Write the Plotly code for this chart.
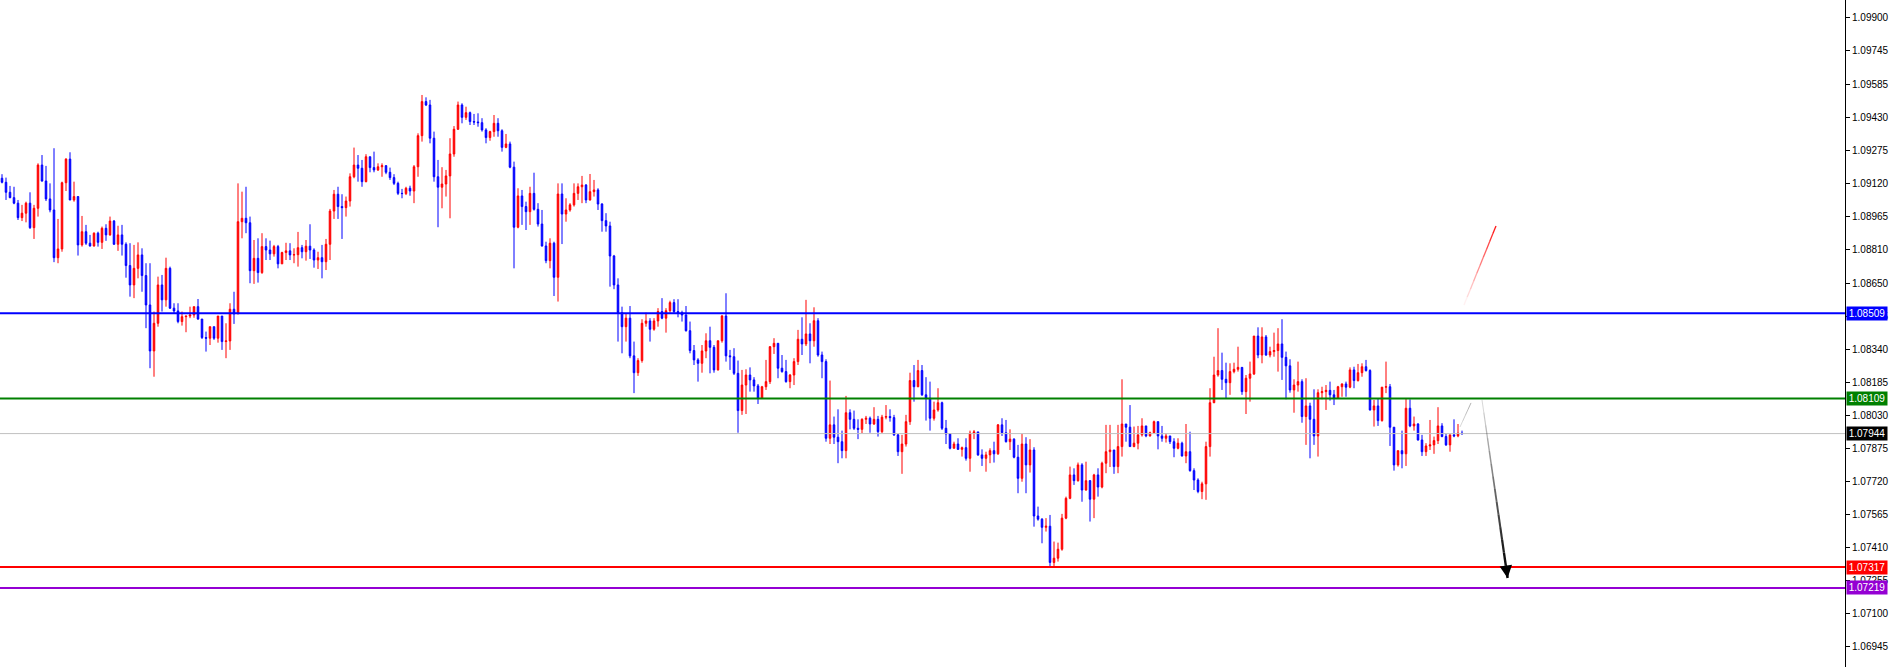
import numpy as np
import plotly.graph_objects as go

# ---------------- data (EURUSD-like candles) ----------------
first_open = 1.09143

close = [
    1.09124, 1.09077, 1.09052, 1.09026, 1.08958, 1.08979, 1.09026, 1.08911, 1.09002, 1.09205,
    1.09130, 1.09046, 1.08994, 1.08770, 1.08811, 1.09122, 1.09233, 1.09041, 1.09057, 1.08830,
    1.08892, 1.08838, 1.08825, 1.08885, 1.08842, 1.08908, 1.08877, 1.08942, 1.08833, 1.08877,
    1.08833, 1.08733, 1.08642, 1.08720, 1.08783, 1.08686, 1.08548, 1.08332, 1.08462, 1.08642,
    1.08572, 1.08720, 1.08533, 1.08520, 1.08470, 1.08493, 1.08496, 1.08501, 1.08540, 1.08482,
    1.08395, 1.08392, 1.08446, 1.08392, 1.08496, 1.08376, 1.08379, 1.08528, 1.08506, 1.08939,
    1.08955, 1.08934, 1.08709, 1.08767, 1.08700, 1.08822, 1.08806, 1.08788, 1.08822, 1.08741,
    1.08794, 1.08802, 1.08783, 1.08784, 1.08817, 1.08798, 1.08824, 1.08806, 1.08759, 1.08770,
    1.08751, 1.08833, 1.08989, 1.09068, 1.09010, 1.09005, 1.09036, 1.09150, 1.09205, 1.09190,
    1.09127, 1.09244, 1.09193, 1.09182, 1.09197, 1.09202, 1.09171, 1.09146, 1.09119, 1.09072,
    1.09071, 1.09096, 1.09083, 1.09197, 1.09343, 1.09503, 1.09487, 1.09331, 1.09150, 1.09101,
    1.09116, 1.09154, 1.09257, 1.09373, 1.09487, 1.09429, 1.09451, 1.09409, 1.09407, 1.09404,
    1.09370, 1.09334, 1.09362, 1.09401, 1.09366, 1.09288, 1.09304, 1.09195, 1.08913, 1.09060,
    1.09010, 1.08986, 1.09072, 1.08997, 1.08928, 1.08825, 1.08756, 1.08838, 1.08678, 1.09069,
    1.08975, 1.08994, 1.09018, 1.09072, 1.09103, 1.09111, 1.09041, 1.09080, 1.09088, 1.09022,
    1.08944, 1.08919, 1.08778, 1.08642, 1.08512, 1.08446, 1.08486, 1.08309, 1.08230, 1.08287,
    1.08462, 1.08473, 1.08434, 1.08473, 1.08517, 1.08486, 1.08521, 1.08559, 1.08517, 1.08512,
    1.08501, 1.08427, 1.08334, 1.08290, 1.08274, 1.08332, 1.08380, 1.08349, 1.08243, 1.08380,
    1.08496, 1.08309, 1.08305, 1.08227, 1.08052, 1.08172, 1.08219, 1.08196, 1.08168, 1.08110,
    1.08164, 1.08188, 1.08352, 1.08368, 1.08251, 1.08235, 1.08188, 1.08219, 1.08282, 1.08387,
    1.08365, 1.08412, 1.08380, 1.08474, 1.08313, 1.08282, 1.07922, 1.07985, 1.07927, 1.07906,
    1.07864, 1.08042, 1.08011, 1.07969, 1.07964, 1.08011, 1.08016, 1.07989, 1.08011, 1.07953,
    1.08021, 1.08024, 1.08019, 1.07938, 1.07859, 1.07895, 1.08000, 1.08193, 1.08164, 1.08240,
    1.08126, 1.08110, 1.08016, 1.08055, 1.08089, 1.07969, 1.07942, 1.07875, 1.07895, 1.07870,
    1.07878, 1.07828, 1.07946, 1.07952, 1.07844, 1.07828, 1.07844, 1.07864, 1.07849, 1.07985,
    1.07948, 1.07906, 1.07918, 1.07833, 1.07734, 1.07895, 1.07797, 1.07867, 1.07557, 1.07542,
    1.07504, 1.07509, 1.07339, 1.07359, 1.07401, 1.07547, 1.07640, 1.07750, 1.07723, 1.07797,
    1.07679, 1.07723, 1.07636, 1.07750, 1.07693, 1.07805, 1.07859, 1.07867, 1.07789, 1.07883,
    1.07989, 1.07974, 1.07883, 1.07899, 1.07938, 1.07980, 1.07933, 1.07948, 1.08000, 1.07933,
    1.07922, 1.07933, 1.07906, 1.07875, 1.07899, 1.07839, 1.07859, 1.07770, 1.07726, 1.07672,
    1.07708, 1.07883, 1.08089, 1.08219, 1.08240, 1.08199, 1.08183, 1.08235, 1.08246, 1.08255,
    1.08141, 1.08204, 1.08224, 1.08402, 1.08313, 1.08398, 1.08313, 1.08329, 1.08334, 1.08365,
    1.08302, 1.08262, 1.08149, 1.08172, 1.08188, 1.08024, 1.08074, 1.08011, 1.07933, 1.08136,
    1.08141, 1.08147, 1.08126, 1.08110, 1.08164, 1.08177, 1.08162, 1.08243, 1.08193, 1.08230,
    1.08258, 1.08240, 1.08055, 1.08074, 1.08005, 1.08162, 1.08164, 1.07974, 1.07797, 1.07864,
    1.07849, 1.08063, 1.07980, 1.07989, 1.07914, 1.07859, 1.07886, 1.07891, 1.07911, 1.07980,
    1.07930, 1.07891, 1.07938, 1.07933, 1.07946, 1.07944,
]

high = [
    1.09162, 1.09146, 1.09107, 1.09103, 1.09041, 1.09018, 1.09033, 1.09077, 1.09018, 1.09213,
    1.09252, 1.09201, 1.09119, 1.09284, 1.08952, 1.09127, 1.09237, 1.09265, 1.09127, 1.09057,
    1.08966, 1.08924, 1.08877, 1.08889, 1.08892, 1.08916, 1.08927, 1.08963, 1.08947, 1.08920,
    1.08924, 1.08842, 1.08838, 1.08830, 1.08842, 1.08814, 1.08744, 1.08744, 1.08517, 1.08681,
    1.08689, 1.08770, 1.08728, 1.08556, 1.08556, 1.08517, 1.08496, 1.08540, 1.08540, 1.08576,
    1.08482, 1.08423, 1.08446, 1.08446, 1.08496, 1.08496, 1.08462, 1.08556, 1.08610, 1.09119,
    1.09080, 1.09103, 1.08963, 1.08853, 1.08861, 1.08885, 1.08861, 1.08850, 1.08830, 1.08830,
    1.08798, 1.08840, 1.08838, 1.08814, 1.08891, 1.08830, 1.08853, 1.08927, 1.08814, 1.08798,
    1.08830, 1.08858, 1.08999, 1.09088, 1.09103, 1.09068, 1.09057, 1.09166, 1.09287, 1.09252,
    1.09229, 1.09256, 1.09244, 1.09268, 1.09213, 1.09213, 1.09205, 1.09193, 1.09162, 1.09127,
    1.09093, 1.09103, 1.09108, 1.09205, 1.09354, 1.09534, 1.09523, 1.09511, 1.09362, 1.09229,
    1.09195, 1.09182, 1.09331, 1.09388, 1.09503, 1.09495, 1.09479, 1.09456, 1.09445, 1.09448,
    1.09425, 1.09378, 1.09366, 1.09440, 1.09425, 1.09373, 1.09351, 1.09315, 1.09221, 1.09096,
    1.09088, 1.09033, 1.09103, 1.09169, 1.09026, 1.08994, 1.08845, 1.08861, 1.08845, 1.09119,
    1.09119, 1.09049, 1.09026, 1.09119, 1.09119, 1.09154, 1.09116, 1.09163, 1.09135, 1.09096,
    1.09026, 1.08979, 1.08939, 1.08783, 1.08673, 1.08540, 1.08506, 1.08543, 1.08376, 1.08298,
    1.08481, 1.08512, 1.08486, 1.08486, 1.08533, 1.08580, 1.08533, 1.08568, 1.08575, 1.08575,
    1.08521, 1.08543, 1.08470, 1.08360, 1.08298, 1.08360, 1.08415, 1.08446, 1.08360, 1.08380,
    1.08501, 1.08603, 1.08337, 1.08345, 1.08287, 1.08243, 1.08246, 1.08255, 1.08209, 1.08177,
    1.08168, 1.08290, 1.08355, 1.08392, 1.08368, 1.08313, 1.08290, 1.08224, 1.08298, 1.08431,
    1.08490, 1.08572, 1.08462, 1.08537, 1.08486, 1.08329, 1.08293, 1.08193, 1.08024, 1.08058,
    1.07958, 1.08121, 1.08058, 1.08052, 1.08011, 1.08016, 1.08027, 1.08024, 1.08068, 1.08027,
    1.08032, 1.08078, 1.08058, 1.08032, 1.07942, 1.07938, 1.08032, 1.08230, 1.08266, 1.08290,
    1.08266, 1.08209, 1.08188, 1.08094, 1.08157, 1.08094, 1.08008, 1.07946, 1.07906, 1.07922,
    1.07883, 1.07922, 1.07958, 1.07961, 1.07948, 1.07870, 1.07859, 1.07875, 1.07906, 1.07989,
    1.08016, 1.08008, 1.07964, 1.07922, 1.07891, 1.07942, 1.07927, 1.07918, 1.07880, 1.07601,
    1.07547, 1.07547, 1.07562, 1.07437, 1.07432, 1.07567, 1.07648, 1.07789, 1.07781, 1.07808,
    1.07805, 1.07812, 1.07726, 1.07755, 1.07781, 1.07812, 1.07985, 1.07985, 1.07864, 1.07985,
    1.08199, 1.07989, 1.08078, 1.07977, 1.07980, 1.08016, 1.07980, 1.07953, 1.08005, 1.08000,
    1.07980, 1.07946, 1.07930, 1.07922, 1.07922, 1.07906, 1.07989, 1.07953, 1.07781, 1.07734,
    1.07718, 1.07906, 1.08157, 1.08305, 1.08439, 1.08324, 1.08277, 1.08274, 1.08277, 1.08352,
    1.08235, 1.08219, 1.08282, 1.08402, 1.08443, 1.08443, 1.08407, 1.08352, 1.08418, 1.08439,
    1.08481, 1.08329, 1.08293, 1.08199, 1.08282, 1.08199, 1.08204, 1.08089, 1.08152, 1.08152,
    1.08164, 1.08172, 1.08188, 1.08149, 1.08168, 1.08180, 1.08188, 1.08255, 1.08258, 1.08271,
    1.08274, 1.08290, 1.08246, 1.08102, 1.08110, 1.08162, 1.08282, 1.08177, 1.07974, 1.07864,
    1.07958, 1.08110, 1.08105, 1.08024, 1.07993, 1.07938, 1.07899, 1.08008, 1.07930, 1.08068,
    1.07993, 1.07942, 1.07938, 1.08011, 1.07989, 1.07958,
]

low = [
    1.09119, 1.09041, 1.09049, 1.09021, 1.08947, 1.08942, 1.08936, 1.08905, 1.08858, 1.08963,
    1.09127, 1.09036, 1.08983, 1.08749, 1.08744, 1.08798, 1.09083, 1.09040, 1.09033, 1.08780,
    1.08822, 1.08830, 1.08822, 1.08822, 1.08822, 1.08811, 1.08849, 1.08873, 1.08830, 1.08802,
    1.08780, 1.08676, 1.08587, 1.08580, 1.08673, 1.08610, 1.08439, 1.08251, 1.08211, 1.08446,
    1.08517, 1.08540, 1.08529, 1.08509, 1.08462, 1.08451, 1.08420, 1.08486, 1.08488, 1.08478,
    1.08388, 1.08329, 1.08360, 1.08384, 1.08371, 1.08337, 1.08298, 1.08337, 1.08459, 1.08506,
    1.08861, 1.08885, 1.08650, 1.08647, 1.08653, 1.08694, 1.08759, 1.08759, 1.08775, 1.08720,
    1.08744, 1.08759, 1.08759, 1.08744, 1.08728, 1.08767, 1.08756, 1.08764, 1.08723, 1.08717,
    1.08673, 1.08712, 1.08759, 1.08952, 1.08952, 1.08858, 1.08963, 1.09010, 1.09143, 1.09127,
    1.09103, 1.09124, 1.09171, 1.09171, 1.09177, 1.09150, 1.09162, 1.09135, 1.09111, 1.09064,
    1.09049, 1.09064, 1.09061, 1.09026, 1.09150, 1.09315, 1.09482, 1.09307, 1.09127, 1.08913,
    1.09002, 1.09057, 1.08955, 1.09244, 1.09370, 1.09401, 1.09417, 1.09393, 1.09393, 1.09385,
    1.09362, 1.09307, 1.09319, 1.09338, 1.09338, 1.09268, 1.09284, 1.09190, 1.08720, 1.08908,
    1.08924, 1.08900, 1.08924, 1.08991, 1.08916, 1.08822, 1.08744, 1.08720, 1.08590, 1.08564,
    1.08834, 1.08939, 1.08986, 1.09010, 1.09041, 1.09026, 1.09026, 1.09038, 1.09057, 1.08994,
    1.08892, 1.08892, 1.08634, 1.08622, 1.08376, 1.08321, 1.08376, 1.08298, 1.08134, 1.08215,
    1.08277, 1.08446, 1.08376, 1.08427, 1.08446, 1.08481, 1.08418, 1.08512, 1.08509, 1.08490,
    1.08470, 1.08423, 1.08321, 1.08266, 1.08188, 1.08230, 1.08298, 1.08227, 1.08230, 1.08240,
    1.08371, 1.08282, 1.08243, 1.08219, 1.07948, 1.08032, 1.08036, 1.08141, 1.08141, 1.08083,
    1.08110, 1.08149, 1.08177, 1.08318, 1.08204, 1.08230, 1.08183, 1.08157, 1.08172, 1.08266,
    1.08313, 1.08355, 1.08274, 1.08352, 1.08305, 1.08204, 1.07906, 1.07895, 1.07895, 1.07805,
    1.07828, 1.07828, 1.07964, 1.07961, 1.07918, 1.07946, 1.07989, 1.07948, 1.07985, 1.07930,
    1.07946, 1.08011, 1.08000, 1.07933, 1.07839, 1.07755, 1.07883, 1.07985, 1.08094, 1.08162,
    1.08121, 1.08005, 1.07958, 1.08005, 1.08047, 1.07961, 1.07895, 1.07870, 1.07875, 1.07867,
    1.07836, 1.07817, 1.07765, 1.07918, 1.07839, 1.07792, 1.07765, 1.07805, 1.07808, 1.07844,
    1.07933, 1.07902, 1.07867, 1.07828, 1.07664, 1.07718, 1.07664, 1.07761, 1.07507, 1.07535,
    1.07429, 1.07484, 1.07317, 1.07320, 1.07343, 1.07394, 1.07542, 1.07636, 1.07703, 1.07718,
    1.07624, 1.07676, 1.07531, 1.07547, 1.07648, 1.07687, 1.07758, 1.07787, 1.07755, 1.07758,
    1.07836, 1.07906, 1.07883, 1.07880, 1.07870, 1.07930, 1.07927, 1.07930, 1.07946, 1.07870,
    1.07906, 1.07902, 1.07895, 1.07833, 1.07870, 1.07836, 1.07805, 1.07765, 1.07679, 1.07664,
    1.07636, 1.07633, 1.07836, 1.08087, 1.08211, 1.08149, 1.08110, 1.08126, 1.08227, 1.08235,
    1.08126, 1.08036, 1.08094, 1.08219, 1.08298, 1.08274, 1.08309, 1.08302, 1.08305, 1.08235,
    1.08196, 1.08105, 1.08136, 1.08042, 1.08141, 1.07995, 1.07891, 1.07828, 1.07891, 1.07836,
    1.08105, 1.08055, 1.08099, 1.08078, 1.08130, 1.08117, 1.08117, 1.08157, 1.08157, 1.08188,
    1.08211, 1.08235, 1.08052, 1.07977, 1.07980, 1.08000, 1.08134, 1.07886, 1.07770, 1.07789,
    1.07781, 1.07792, 1.07974, 1.07958, 1.07911, 1.07839, 1.07839, 1.07867, 1.07849, 1.07895,
    1.07927, 1.07886, 1.07859, 1.07927, 1.07927, 1.07938,
]

tick_values = [1.09900, 1.09745, 1.09585, 1.09430, 1.09275, 1.09120, 1.08965, 1.08810,
               1.08650, 1.08495, 1.08340, 1.08185, 1.08030, 1.07875, 1.07720, 1.07565,
               1.07410, 1.07255, 1.07100, 1.06945]
tick_labels = ["%.5f" % v for v in tick_values]

level_prices = [1.08509, 1.08109, 1.07944, 1.07317, 1.07219]
level_line_colors = ["#0000FF", "#008000", "#C0C0C0", "#FF0000", "#9400D3"]
level_label_colors = ["#0000FF", "#008000", "#000000", "#FF0000", "#9400D3"]
level_line_widths = [2, 2, 1, 2, 2]

# hand-drawn projection lines (bar index, price)
red_trend_x = [365.5, 373.5]
red_trend_y = [1.08548, 1.08919]
grey_trend_x = [364.5, 367.25]
grey_trend_y = [1.07975, 1.08088]
arrow_x = [370.0, 376.4]
arrow_y = [1.08102, 1.07266]

# ---------------- build ----------------
n = min(len(close), len(high), len(low))
close = close[:n]
opens = [first_open] + close[:-1]
highs = [max(h, o, c) for h, o, c in zip(high[:n], opens, close)]
lows = [min(l, o, c) for l, o, c in zip(low[:n], opens, close)]
x_idx = list(range(n))

fig = go.Figure()
fig.add_trace(go.Candlestick(
    x=x_idx, open=opens, high=highs, low=lows, close=close,
    increasing=dict(line=dict(color="#FF0000", width=1), fillcolor="#FF0000"),
    decreasing=dict(line=dict(color="#0000FF", width=1), fillcolor="#0000FF"),
    whiskerwidth=0, hoverinfo="skip", showlegend=False,
))

shapes = []
for p, col, w in zip(level_prices, level_line_colors, level_line_widths):
    shapes.append(dict(type="line", xref="paper", x0=0, x1=1, yref="y", y0=p, y1=p,
                       line=dict(color=col, width=w), layer="above"))


def gradient(xs, ys, color, n_seg, op0, op1, w0, w1):
    xe = np.linspace(xs[0], xs[1], n_seg + 1)
    ye = np.linspace(ys[0], ys[1], n_seg + 1)
    out = []
    for k in range(n_seg):
        t = k / max(n_seg - 1, 1)
        out.append(dict(type="line", xref="x", yref="y",
                        x0=xe[k], y0=ye[k], x1=xe[k + 1], y1=ye[k + 1],
                        opacity=op0 + (op1 - op0) * t,
                        line=dict(color=color, width=w0 + (w1 - w0) * t), layer="above"))
    return out


shapes += gradient(red_trend_x, red_trend_y, "#FF0000", 10, 0.05, 0.9, 1.3, 1.3)
shapes += gradient(grey_trend_x, grey_trend_y, "#A0A0A0", 4, 0.4, 0.8, 1, 1)
shapes += gradient(arrow_x, arrow_y, "#000000", 14, 0.15, 1.0, 1.0, 2.5)

annotations = []
for p, bg in zip(level_prices, level_label_colors):
    annotations.append(dict(x=1, xref="paper", xanchor="left", xshift=1,
                            y=p, yref="y", yanchor="middle",
                            text="%.5f" % p, showarrow=False, width=40, height=13,
                            font=dict(family="Liberation Sans, Arial, sans-serif", size=10, color="white"),
                            bgcolor=bg, borderpad=0))

# arrow head at the end of the black projection
t_back = 0.04
annotations.append(dict(x=arrow_x[1], y=arrow_y[1], xref="x", yref="y",
                        ax=arrow_x[1] - (arrow_x[1] - arrow_x[0]) * t_back,
                        ay=arrow_y[1] - (arrow_y[1] - arrow_y[0]) * t_back,
                        axref="x", ayref="y", text="", showarrow=True,
                        arrowhead=2, arrowsize=1, arrowwidth=2.5, arrowcolor="#000000"))

fig.update_layout(
    width=1891, height=667,
    margin=dict(l=0, r=46, t=0, b=0, pad=0),
    paper_bgcolor="white", plot_bgcolor="white",
    showlegend=False, boxgap=0.45,
    shapes=shapes, annotations=annotations,
    xaxis=dict(range=[-0.5, 460.75], visible=False, showgrid=False, zeroline=False,
               rangeslider=dict(visible=False), fixedrange=True),
    yaxis=dict(range=[1.06848, 1.09980], side="right", showgrid=False, zeroline=False,
               showline=True, linecolor="#000000", linewidth=1,
               ticks="outside", ticklen=4, tickcolor="#000000", tickwidth=1,
               tickvals=tick_values, ticktext=tick_labels,
               tickfont=dict(family="Liberation Sans, Arial, sans-serif", size=10, color="#000000"),
               fixedrange=True, automargin=False),
    hovermode=False,
)

fig.write_html("out.html", config={"displayModeBar": False, "staticPlot": True},
               post_script="document.body.style.margin='0';document.body.style.overflow='hidden';")
